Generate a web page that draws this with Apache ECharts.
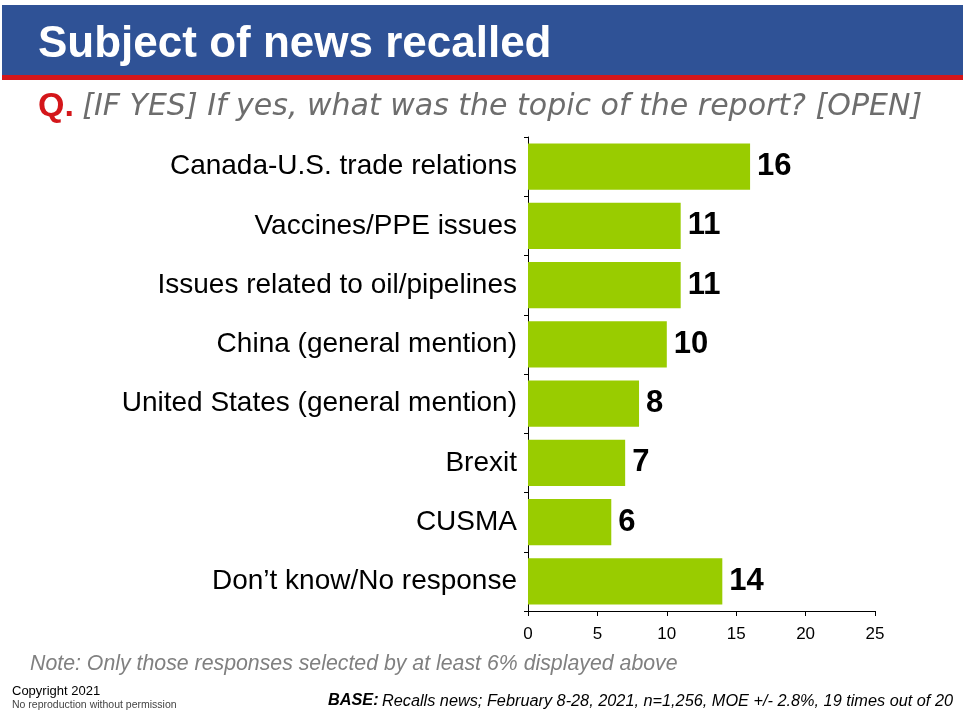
<!DOCTYPE html>
<html>
<head>
<meta charset="utf-8">
<script src="https://cdn.jsdelivr.net/npm/echarts@6/dist/echarts.min.js"></script>
<style>html,body{margin:0;padding:0;background:#fff;}#chart{width:963px;height:713px;}</style>
</head>
<body>
<div id="chart"></div>
<script>
const categories = ["Canada-U.S. trade relations","Vaccines/PPE issues","Issues related to oil/pipelines","China (general mention)","United States (general mention)","Brexit","CUSMA","Don\u2019t know/No response"];
const values = [16, 11, 11, 10, 8, 7, 6, 14];
const xTicks = [0, 5, 10, 15, 20, 25];

const chart = echarts.init(document.getElementById('chart'));
chart.setOption({
  animation: false,
  backgroundColor: '#ffffff',
  graphic: [
    {type:'rect', shape:{x:2,y:5,width:961,height:70}, style:{fill:'#2F5296'}},
    {type:'rect', shape:{x:2,y:75,width:961,height:5}, style:{fill:'#D4161A'}},
    {type:'text', x:38, y:45, style:{text:'Subject of news recalled', fill:'#ffffff', font:'bold 44px "Liberation Sans", Arial, sans-serif', textVerticalAlign:'middle'}},
    {type:'text', x:38, y:107, style:{
      text:'{q|Q.} {t|[IF YES] If yes, what was the topic of the report? [OPEN]}',
      textVerticalAlign:'middle',
      rich:{
        q:{fill:'#D4161A', font:'bold 34px "Liberation Sans", Arial, sans-serif', padding:[0,5,0,0]},
        t:{fill:'#6d6d6d', font:'oblique 30px "DejaVu Sans", sans-serif'}
      }}},
    {type:'text', x:30, y:664, style:{text:'Note: Only those responses selected by at least 6% displayed above', fill:'#808080', font:'italic 21.3px "Liberation Sans", Arial, sans-serif', textVerticalAlign:'middle'}},
    {type:'text', x:12, y:691, style:{text:'Copyright 2021', fill:'#000000', font:'13px "Liberation Sans", Arial, sans-serif', textVerticalAlign:'middle'}},
    {type:'text', x:12, y:705, style:{text:'No reproduction without permission', fill:'#444444', font:'10.5px "Liberation Sans", Arial, sans-serif', textVerticalAlign:'middle'}},
    {type:'text', x:953, y:701, style:{
      text:'{b|BASE:} {t|Recalls news; February 8-28, 2021, n=1,256, MOE +/- 2.8%, 19 times out of 20}',
      textAlign:'right', textVerticalAlign:'middle',
      rich:{
        b:{fill:'#000', font:'italic bold 16.3px "Liberation Sans", Arial, sans-serif'},
        t:{fill:'#000', font:'italic 16.3px "Liberation Sans", Arial, sans-serif'}
      }}}
  ],
  grid: {left:528, right:88, top:137, bottom:102, containLabel:false},
  xAxis: {
    type:'value', min:xTicks[0], max:xTicks[xTicks.length-1], interval:5,
    axisLine:{show:true, lineStyle:{color:'#000', width:1}},
    axisTick:{show:true, length:5, lineStyle:{color:'#000'}},
    axisLabel:{color:'#000', fontSize:17, fontFamily:'"Liberation Sans", Arial, sans-serif', margin:15},
    splitLine:{show:false}
  },
  yAxis: {
    type:'category', data:categories, inverse:true,
    axisLine:{show:true, lineStyle:{color:'#000', width:1}},
    axisTick:{show:true, length:4, lineStyle:{color:'#000'}},
    axisLabel:{color:'#000', fontSize:28, fontFamily:'"Liberation Sans", Arial, sans-serif', margin:11}
  },
  series: [{
    type:'bar', data:values, barCategoryGap:'22%',
    itemStyle:{color:'#99CC00'},
    label:{show:true, position:'right', distance:7, color:'#000', fontSize:31, fontWeight:'bold', fontFamily:'"Liberation Sans", Arial, sans-serif'}
  }]
});
</script>
</body>
</html>
